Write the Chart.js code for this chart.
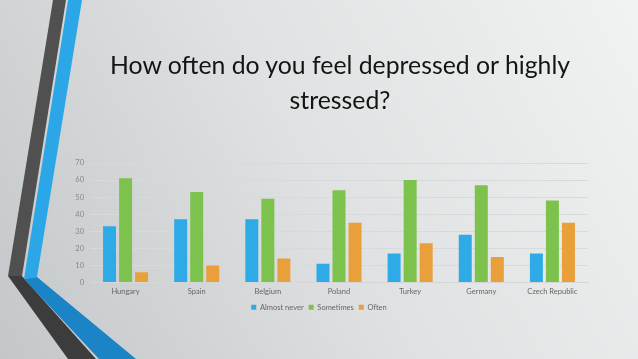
<!DOCTYPE html>
<html>
<head>
<meta charset="utf-8">
<script src="https://cdn.jsdelivr.net/npm/chart.js@4.4.0/dist/chart.umd.min.js"></script>
<style>
  html, body { margin: 0; padding: 0; }
  body { width: 638px; height: 359px; overflow: hidden; position: relative; font-family: Lato, sans-serif; }
  #wrap { position: absolute; left: 0; top: 0; width: 638px; height: 359px; }
  #title {
    position: absolute; left: 90px; width: 500px; top: 47px;
    text-align: center; font-family: Lato, sans-serif; font-size: 24.8px;
    line-height: 35px; color: #141414;
  }
</style>
</head>
<body>
<div id="wrap"><canvas id="chart" width="638" height="359"></canvas></div>
<div id="title">How often do you feel depressed or highly<br>stressed?</div>
<script>
// data
const countries = ['Hungary', 'Spain', 'Belgium', 'Poland', 'Turkey', 'Germany', 'Czech Republic'];
const almostNever = [33, 37, 37, 11, 17, 28, 17];
const sometimes = [61, 53, 49, 54, 60, 57, 48];
const often = [6, 10, 14, 35, 23, 15, 35];
const yTicks = [0, 10, 20, 30, 40, 50, 60, 70];

// slide background + the two bent stripes on the left
const slideBg = {
    id: 'slideBg',
    beforeDraw(chart) {
        const c = chart.ctx;
        c.save();
        const g = c.createLinearGradient(638, 0, 0, 359);
        g.addColorStop(0, '#f1f2f2');
        g.addColorStop(0.5, '#dfe1e2');
        g.addColorStop(1, '#c4c7c9');
        c.fillStyle = g;
        c.fillRect(0, 0, 638, 359);

        const poly = (pts, color) => {
            c.beginPath();
            c.moveTo(pts[0][0], pts[0][1]);
            for (let i = 1; i < pts.length; i++) c.lineTo(pts[i][0], pts[i][1]);
            c.closePath();
            c.fillStyle = color;
            c.fill();
        };
        // dark stripe
        poly([[53, 0], [66, 0], [22, 276], [8, 276]], '#505050');
        poly([[8, 276], [22, 276], [96, 359], [68, 359]], '#3c3c3c');
        // blue stripe
        poly([[68, 0], [82, 0], [37, 277], [24, 279]], '#2ba6e6');
        poly([[24, 279], [37, 277], [136, 359], [99, 359]], '#1b84c6');
        c.restore();
    }
};

const ctx = document.getElementById('chart').getContext('2d');

const myChart = new Chart(ctx, {
    type: 'bar',
    data: {
        labels: countries,
        datasets: [
            { label: 'Almost never', data: almostNever, backgroundColor: '#2eaae6' },
            { label: 'Sometimes', data: sometimes, backgroundColor: '#7cc24c' },
            { label: 'Often', data: often, backgroundColor: '#e9a03b' },
        ],
    },
    options: {
        responsive: false,
        animation: false,
        devicePixelRatio: 1,
        layout: { padding: { left: 50, right: 50, top: 163, bottom: 38 } },
        datasets: { bar: { categoryPercentage: 0.676, barPercentage: 0.81 } },
        plugins: {
            legend: {
                position: 'bottom',
                labels: {
                    boxWidth: 5, boxHeight: 5, padding: 5,
                    color: '#666', font: { family: 'Lato', size: 7.5 },
                },
            },
            title: { display: false },
            tooltip: { enabled: false },
        },
        scales: {
            x: {
                grid: { display: false, drawTicks: false },
                border: { color: '#d6d6d6' },
                ticks: { color: '#666', font: { family: 'Lato', size: 7.5 }, padding: 5 },
                afterFit: (s) => { s.height = 16; },
            },
            y: {
                min: 0,
                max: 70,
                afterBuildTicks: (s) => { s.ticks = yTicks.map(v => ({ value: v })); },
                grid: { color: '#d9d9d9', drawTicks: false },
                border: { display: false },
                ticks: { color: '#888', font: { family: 'Lato', size: 7.5 }, padding: 6 },
                afterFit: (s) => { s.width = 40; },
            },
        },
    },
    plugins: [slideBg],
});
</script>
</body>
</html>
